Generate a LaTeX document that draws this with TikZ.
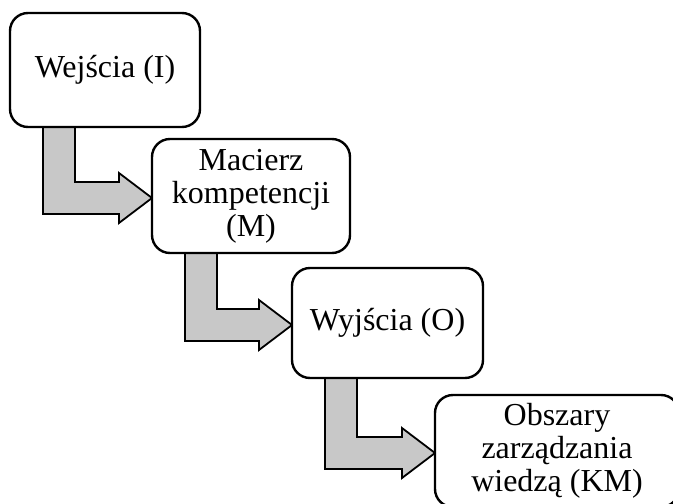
\documentclass[tikz,border=0pt]{standalone}
\usepackage{fontspec}
\setmainfont{Liberation Serif}
\usetikzlibrary{calc,backgrounds}

\definecolor{arrowgray}{HTML}{C8C8C8}

\tikzset{
  stagebox/.style={draw=black, line width=2.4pt, fill=white, rounded corners=18pt,
    outer sep=0pt, inner sep=0pt, align=center,
    font=\fontsize{32}{33}\selectfont},
  flowarrow/.style={draw=black, line width=1.8pt, fill=arrowgray, line join=miter},
}

% bent block arrow from the bottom of box #1 to the left side of box #2
\newcommand{\bentarrow}[2]{%
  \path[flowarrow] let \p1=(#1.south west), \p2=(#2.west),
        \n1={\x1+33pt}, \n2={\y2-2pt}, \n3={\x2-33pt} in
    (\n1,\y1) -- (\n1,\n2-16pt) -- (\n3,\n2-16pt) -- (\n3,\n2-25pt)
    -- (\x2,\n2) -- (\n3,\n2+25pt) -- (\n3,\n2+16pt)
    -- (\n1+32pt,\n2+16pt) -- (\n1+32pt,\y1) -- cycle;}

\begin{document}
\begin{tikzpicture}[x=1pt,y=-1pt]
  \useasboundingbox (0,0) rectangle (673,504);
  \clip (0,0) rectangle (673,504);

  \node[stagebox, minimum width=190pt, minimum height=114pt] (in)  at (105,70)
    {Wejścia (I)};
  \node[stagebox, minimum width=198pt, minimum height=114pt] (mat) at (251,196)
    {Macierz\\kompetencji\\(M)};
  \node[stagebox, minimum width=191pt, minimum height=110pt] (out) at (387.5,323)
    {Wyjścia (O)};
  \node[stagebox, minimum width=244pt, minimum height=112pt] (km)  at (557,451)
    {Obszary\\zarządzania\\wiedzą (KM)};

  \begin{scope}[on background layer]
    \bentarrow{in}{mat}
    \bentarrow{mat}{out}
    \bentarrow{out}{km}
  \end{scope}
\end{tikzpicture}
\end{document}
